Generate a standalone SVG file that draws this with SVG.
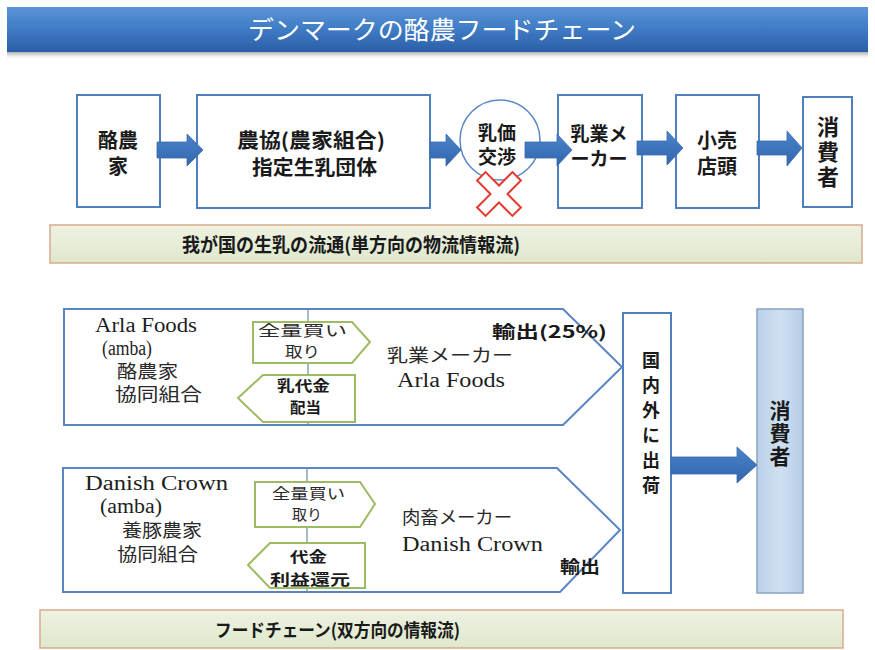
<svg xmlns="http://www.w3.org/2000/svg" width="875" height="650" viewBox="0 0 875 650">
<defs>
<linearGradient id="titleG" x1="0" y1="0" x2="0" y2="1">
<stop offset="0" stop-color="#5a94d6"/>
<stop offset="0.5" stop-color="#3f7bc4"/>
<stop offset="1" stop-color="#2a5ea8"/>
</linearGradient>
<linearGradient id="shadowG" x1="0" y1="0" x2="0" y2="1">
<stop offset="0" stop-color="#8a8a8a" stop-opacity="0.7"/>
<stop offset="1" stop-color="#ffffff" stop-opacity="0"/>
</linearGradient>
<linearGradient id="bandG" x1="0" y1="0" x2="0" y2="1">
<stop offset="0" stop-color="#eef2e2"/>
<stop offset="1" stop-color="#dfe8cc"/>
</linearGradient>
<linearGradient id="consG" x1="0" y1="0" x2="1" y2="0">
<stop offset="0" stop-color="#b9d0e8"/>
<stop offset="0.5" stop-color="#cfe0f1"/>
<stop offset="1" stop-color="#b7cde6"/>
</linearGradient>
<linearGradient id="arrG" x1="0" y1="0" x2="0" y2="1">
<stop offset="0" stop-color="#4a84cc"/>
<stop offset="1" stop-color="#3165ad"/>
</linearGradient>
</defs>
<style>
.box{fill:#ffffff;stroke:#4f7fbf;stroke-width:2}
.pent{fill:#ffffff;stroke:#5a85c4;stroke-width:2}
.gp{fill:#ffffff;stroke:#9dbb61;stroke-width:2}
.band{fill:url(#bandG);stroke:#d9ab8c;stroke-width:1.5}
.arr{fill:url(#arrG);stroke:#3a6aac;stroke-width:0.8}
.g{font-family:"Noto Sans CJK JP","Noto Sans",sans-serif;font-weight:bold;fill:#1a1a1a}
.m{font-family:"Liberation Serif","Noto Sans CJK JP",serif;fill:#1e1e1e}
.j{font-family:"Noto Sans CJK JP",sans-serif;fill:#2a2a2a}
.c{text-anchor:middle}
.v{writing-mode:vertical-rl;text-orientation:upright}
</style>
<rect x="0" y="0" width="875" height="650" fill="#ffffff"/>

<g id="title">
<rect x="7" y="52" width="861" height="8" fill="url(#shadowG)"/>
<rect x="7" y="7" width="861" height="45" fill="url(#titleG)"/>
<text x="442" y="39" class="c" font-family="'Noto Sans CJK JP',sans-serif" font-size="25" fill="#ffffff" textLength="388" lengthAdjust="spacingAndGlyphs">デンマークの酪農フードチェーン</text>
</g>

<g id="n-rakunouka">
<rect class="box" x="77" y="95" width="83" height="112"/>
<text class="g c" font-size="20"><tspan x="118" y="148">酪農</tspan><tspan x="118" y="174">家</tspan></text>
</g>

<g id="n-noukyou">
<rect class="box" x="197" y="95" width="233" height="113"/>
<text class="g" font-size="20"><tspan x="237" y="148" textLength="148" lengthAdjust="spacingAndGlyphs">農協(農家組合)</tspan><tspan x="252" y="175" textLength="125" lengthAdjust="spacingAndGlyphs">指定生乳団体</tspan></text>
</g>

<g id="n-nyuka">
<circle cx="500" cy="140" r="40" fill="#ffffff" stroke="#5b88c8" stroke-width="1.5"/>
<text class="g c" font-size="19"><tspan x="497" y="140">乳価</tspan><tspan x="497" y="164">交渉</tspan></text>
<polygon transform="translate(499,194) rotate(45)" points="-6,-25 6,-25 6,-6 25,-6 25,6 6,6 6,25 -6,25 -6,6 -25,6 -25,-6 -6,-6" fill="#ffffff" stroke="#e23a32" stroke-width="2"/>
</g>

<g id="n-nyugyou">
<rect class="box" x="558" y="95" width="84" height="113"/>
<text class="g c" font-size="19"><tspan x="599" y="141">乳業メ</tspan><tspan x="599" y="166">ーカー</tspan></text>
</g>

<g id="n-kouri">
<rect class="box" x="676" y="95" width="83" height="113"/>
<text class="g c" font-size="20"><tspan x="717" y="148">小売</tspan><tspan x="717" y="174">店頭</tspan></text>
</g>

<g id="n-shohisha1">
<rect class="box" x="803" y="97" width="49" height="110"/>
<text class="g v" x="828" y="116" font-size="22" letter-spacing="3">消費者</text>
</g>

<g id="band1">
<rect class="band" x="50" y="225" width="812" height="38"/>
<text class="g" x="182" y="252" font-size="19" textLength="338" lengthAdjust="spacingAndGlyphs">我が国の生乳の流通(単方向の物流情報流)</text>
</g>

<g id="n-arla">
<polygon class="pent" points="64,309 563,309 622,367 563,425 64,425"/>
<line x1="308" y1="309" x2="308" y2="425" stroke="#7088aa" stroke-width="1.2"/>
<text class="m" font-size="20"><tspan x="95" y="332" textLength="102" lengthAdjust="spacingAndGlyphs">Arla Foods</tspan><tspan x="102" y="355" textLength="50" lengthAdjust="spacingAndGlyphs">(amba)</tspan></text>
<text class="j" font-size="18"><tspan x="117" y="378" textLength="61" lengthAdjust="spacingAndGlyphs">酪農家</tspan><tspan x="115" y="401" textLength="87" lengthAdjust="spacingAndGlyphs">協同組合</tspan></text>
<polygon class="gp" points="253,322 352,322 370,342 352,363 253,363"/>
<text class="j" font-size="15"><tspan x="258" y="336" textLength="89" lengthAdjust="spacingAndGlyphs">全量買い</tspan><tspan x="285" y="357" textLength="35" lengthAdjust="spacingAndGlyphs">取り</tspan></text>
<polygon class="gp" points="238,398 263,375 355,375 355,422 263,422"/>
<text class="g" font-size="15"><tspan x="277" y="391" textLength="53" lengthAdjust="spacingAndGlyphs">乳代金</tspan><tspan x="290" y="413" textLength="31" lengthAdjust="spacingAndGlyphs">配当</tspan></text>
<text class="g" x="492" y="338" font-size="17" textLength="115" lengthAdjust="spacingAndGlyphs">輸出(25%)</text>
<text class="j" x="387" y="362" font-size="18" textLength="126" lengthAdjust="spacingAndGlyphs">乳業メーカー</text>
<text class="m" x="397" y="387" font-size="20" textLength="108" lengthAdjust="spacingAndGlyphs">Arla Foods</text>
</g>

<g id="n-danish">
<polygon class="pent" points="63,468 557,468 620,530 560,592 63,592"/>
<line x1="307" y1="468" x2="307" y2="592" stroke="#7088aa" stroke-width="1.2"/>
<text class="m" font-size="20"><tspan x="85" y="490" textLength="143" lengthAdjust="spacingAndGlyphs">Danish Crown</tspan><tspan x="100" y="513" textLength="62" lengthAdjust="spacingAndGlyphs">(amba)</tspan></text>
<text class="j" font-size="18"><tspan x="122" y="537" textLength="80" lengthAdjust="spacingAndGlyphs">養豚農家</tspan><tspan x="117" y="561" textLength="81" lengthAdjust="spacingAndGlyphs">協同組合</tspan></text>
<polygon class="gp" points="255,482 360,482 375,504 360,527 255,527"/>
<text class="j" font-size="15"><tspan x="272" y="499" textLength="73" lengthAdjust="spacingAndGlyphs">全量買い</tspan><tspan x="292" y="520" textLength="30" lengthAdjust="spacingAndGlyphs">取り</tspan></text>
<polygon class="gp" points="248,565 270,543 365,543 365,588 270,588"/>
<text class="g" font-size="15"><tspan x="290" y="562" textLength="37" lengthAdjust="spacingAndGlyphs">代金</tspan><tspan x="270" y="585" textLength="80" lengthAdjust="spacingAndGlyphs">利益還元</tspan></text>
<text class="j" x="402" y="524" font-size="18" textLength="110" lengthAdjust="spacingAndGlyphs">肉畜メーカー</text>
<text class="m" x="402" y="551" font-size="20" textLength="141" lengthAdjust="spacingAndGlyphs">Danish Crown</text>
<text class="g" x="560" y="573" font-size="17" textLength="40" lengthAdjust="spacingAndGlyphs">輸出</text>
</g>

<g id="n-shukka">
<rect class="box" x="623" y="313" width="48" height="280"/>
<text class="g v" x="651" y="351" font-size="18" letter-spacing="7">国内外に出荷</text>
</g>

<g id="n-shohisha2">
<rect x="757" y="309" width="46" height="284" fill="url(#consG)" stroke="#8aa3c0" stroke-width="1.5"/>
<text class="g v" x="780" y="400" font-size="21" letter-spacing="2">消費者</text>
</g>

<g id="band2">
<rect class="band" x="40" y="610" width="803" height="38"/>
<text class="g" x="215" y="637" font-size="18" textLength="245" lengthAdjust="spacingAndGlyphs">フードチェーン(双方向の情報流)</text>
</g>

<g id="connectors">
<polygon class="arr" points="157,142 187,142 187,134 203,150 187,166 187,158 157,158"/>
<polygon class="arr" points="430,142 446,142 446,134 461,150 446,166 446,158 430,158"/>
<polygon class="arr" points="525,142 557,142 557,134 572,150 557,166 557,158 525,158"/>
<polygon class="arr" points="637,141 667,141 667,131 683,148 667,165 667,155 637,155"/>
<polygon class="arr" points="757,141 787,141 787,131 802,148 787,166 787,155 757,155"/>
<polygon class="arr" points="671,457 737,457 737,447 757,465 737,483 737,474 671,474"/>
</g>
</svg>
